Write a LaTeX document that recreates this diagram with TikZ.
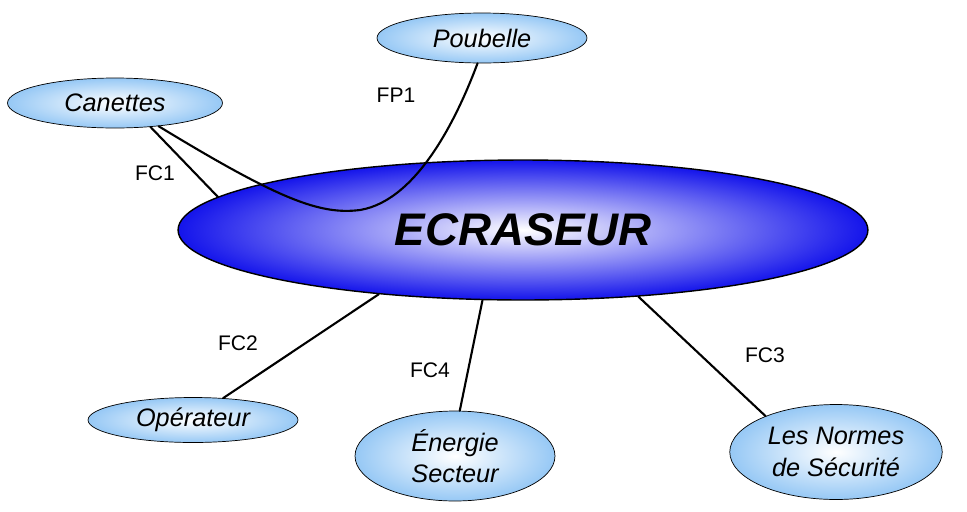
\documentclass[tikz,border=0pt]{standalone}
\usepackage{fontspec}
\setmainfont{Liberation Sans}
\usetikzlibrary{shapes.geometric}
\definecolor{pale}{RGB}{150,200,245}
\definecolor{deep}{RGB}{20,20,235}
\tikzset{
  item/.style={ellipse, draw, inner sep=0pt, inner color=white, outer color=pale,
    font=\itshape\Large, align=center},
  link/.style={line width=1.2pt},
  tag/.style={font=\large}
}
\begin{document}
\begin{tikzpicture}[x=0.02cm, y=-0.02cm, line cap=round]
  \useasboundingbox (0,0) rectangle (967,511);
  % Nodes around
  \node[item, minimum width=4.2cm, minimum height=1cm] (pou) at (482,38) {Poubelle};
  \node[item, minimum width=4.3cm, minimum height=1cm] (can) at (115,103) {Canettes};
  \node[item, minimum width=4.2cm, minimum height=0.9cm] (op) at (193,420) {Opérateur};
  \node[item, minimum width=4cm, minimum height=1.8cm] (en) at (455,456) {Énergie\\Secteur};
  \node[item, minimum width=4.25cm, minimum height=1.9cm] (norm) at (836,452) {Les Normes\\de Sécurité};

  % FC1 under the main ellipse
  \draw[link] (can.-34) -- (218,197);

  % Main ellipse
  \node[ellipse, draw, line width=0.8pt, inner sep=0pt, minimum width=13.8cm, minimum height=2.8cm,
        inner color=white, outer color=deep, font=\bfseries\itshape\fontsize{26}{30}\selectfont] (main) at (523,230) {ECRASEUR};

  % Connectors
  \draw[link] (can.-28) .. controls (280,200) and (320,215) .. (360,210)
              .. controls (420,200) and (460,110) .. (pou.-100);
  \draw[link] (op.36) -- (main.204);
  \draw[link] (en.84) -- (main.240);
  \draw[link] (norm.153) -- (main.-30);

  % Labels
  \node[tag] (fp1) at (396,95) {FP1};
  \node[tag] (fc1) at (155,173) {FC1};
  \node[tag] (fc2) at (238,343) {FC2};
  \node[tag] (fc4) at (430,370) {FC4};
  \node[tag] (fc3) at (765,355) {FC3};
\end{tikzpicture}
\end{document}
